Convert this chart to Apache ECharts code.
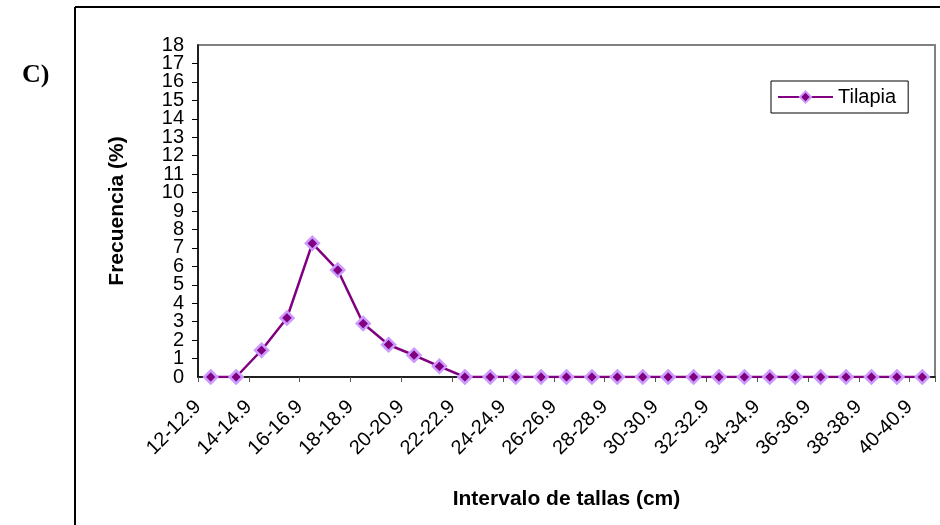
<!DOCTYPE html>
<html>
<head>
<meta charset="utf-8">
<script src="https://cdn.jsdelivr.net/npm/echarts@6/dist/echarts.min.js"></script>
<style>
  html, body { margin: 0; padding: 0; background: #fff; }
  #chart { width: 940px; height: 525px; }
</style>
</head>
<body>
<div id="chart"></div>
<script>
// Size classes (cm)
const categories = [
  '12-12.9', '13-13.9', '14-14.9', '15-15.9', '16-16.9', '17-17.9', '18-18.9',
  '19-19.9', '20-20.9', '21-21.9', '22-22.9', '23-23.9', '24-24.9', '25-25.9',
  '26-26.9', '27-27.9', '28-28.9', '29-29.9', '30-30.9', '31-31.9', '32-32.9',
  '33-33.9', '34-34.9', '35-35.9', '36-36.9', '37-37.9', '38-38.9', '39-39.9',
  '40-40.9'
];
// Frequency (%) per size class
const tilapia = [
  0, 0, 1.45, 3.2, 7.25, 5.8, 2.9, 1.75, 1.18, 0.58, 0,
  0, 0, 0, 0, 0, 0, 0, 0, 0, 0, 0, 0, 0, 0, 0, 0, 0, 0
];
const yMin = 0, yMax = 18, yStep = 1;

const chart = echarts.init(document.getElementById('chart'), null, { renderer: 'canvas' });

const font = '"Liberation Sans", Arial, sans-serif';
const yLabelStyle = { fontSize: 20, color: '#000', margin: 14, fontFamily: font };

chart.setOption({
  animation: false,
  backgroundColor: '#ffffff',
  textStyle: { fontFamily: font },
  graphic: [
    // outer frame (top and left edges)
    { type: 'line', shape: { x1: 75, y1: 7, x2: 940, y2: 7 }, style: { stroke: '#000', lineWidth: 2 } },
    { type: 'line', shape: { x1: 75, y1: 7, x2: 75, y2: 525 }, style: { stroke: '#000', lineWidth: 2 } },
    { type: 'text', left: 22, top: 62,
      style: { text: 'C)', font: 'bold 26px "Liberation Serif", "Times New Roman", serif', fill: '#000' } }
  ],
  grid: {
    left: 198, right: 5, top: 45, bottom: 148,
    show: true, borderColor: '#808080', borderWidth: 2, backgroundColor: '#ffffff'
  },
  legend: {
    data: ['Tilapia'],
    left: 771, top: 81,
    padding: [6, 12, 6, 6],
    borderColor: '#000', borderWidth: 1,
    itemWidth: 55, itemHeight: 14, itemGap: 4,
    textStyle: { fontSize: 20, color: '#000', fontFamily: font }
  },
  xAxis: {
    type: 'category',
    data: categories,
    boundaryGap: true,
    name: 'Intervalo de tallas (cm)',
    nameLocation: 'middle',
    nameGap: 112,
    nameTextStyle: { fontSize: 21, fontWeight: 'bold', color: '#000', fontFamily: font },
    axisLine: { lineStyle: { color: '#000', width: 1.5 } },
    axisTick: { show: true, length: 5, lineStyle: { color: '#555' } },
    axisLabel: {
      interval: 1, rotate: 45, fontSize: 20, color: '#000', margin: 14,
      padding: [0, 18, 0, 0], fontFamily: font
    },
    splitLine: { show: false }
  },
  yAxis: [{
    // main value axis: line, ticks, inner labels (1 … 17)
    type: 'value',
    position: 'left', offset: 0,
    min: yMin, max: yMax, interval: yStep,
    name: 'Frecuencia (%)',
    nameLocation: 'middle',
    nameGap: 70,
    nameRotate: 90,
    nameTextStyle: { fontSize: 21, fontWeight: 'bold', color: '#000', fontFamily: font },
    axisLine: { show: true, lineStyle: { color: '#000', width: 1.5 } },
    axisTick: { show: true, length: 6, lineStyle: { color: '#000' } },
    axisLabel: yLabelStyle,
    splitLine: { show: false }
  }, {
    // same scale, carries only the end labels (0 and 18)
    type: 'value',
    position: 'left', offset: 0,
    min: yMin, max: yMax, interval: yStep,
    axisLine: { show: false },
    axisTick: { show: false },
    axisLabel: Object.assign({}, yLabelStyle, {
      showMinLabel: true, showMaxLabel: true,
      formatter: v => (v === yMin || v === yMax) ? String(v) : ''
    }),
    splitLine: { show: false }
  }],
  series: [{
    name: 'Tilapia',
    type: 'line',
    data: tilapia,
    yAxisIndex: 0,
    symbol: 'diamond',
    symbolSize: 13,
    lineStyle: { color: '#800080', width: 2.5 },
    itemStyle: { color: '#800080', borderColor: '#CC99FF', borderWidth: 2.5 }
  }]
});
</script>
</body>
</html>
